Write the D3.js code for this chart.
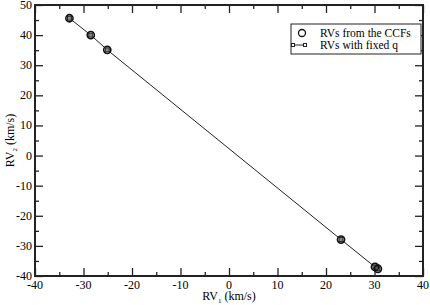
<!DOCTYPE html>
<html>
<head>
<meta charset="utf-8">
<script src="https://cdn.jsdelivr.net/npm/d3@7"></script>
<style>
  body { margin: 0; background: #fff; }
  text { font-family: "Liberation Serif", "Times New Roman", serif; }
</style>
</head>
<body>
<div id="chart"></div>
<script>
// RVs measured from the CCFs
var rv1 = [-32.9, -28.5, -25.1, 23.1, 30.1, 30.7];
var rv2 = [45.6, 40.0, 35.1, -27.9, -37.0, -37.6];
// RVs recomputed with fixed mass ratio q
var fixedRv1 = [-32.9, -28.5, -25.1, 23.1, 30.1, 30.7];
var fixedRv2 = [45.6, 40.0, 35.1, -27.9, -37.0, -37.6];
var xTicks = [-40, -30, -20, -10, 0, 10, 20, 30, 40];
var yTicks = [-40, -30, -20, -10, 0, 10, 20, 30, 40, 50];
var legendLabels = ["RVs from the CCFs", "RVs with fixed q"];

var W = 430, H = 305;
var margin = {top: 5, right: 7, bottom: 29, left: 35};

var x = d3.scaleLinear().domain([-40, 40]).range([margin.left, W - margin.right]);
var y = d3.scaleLinear().domain([-40, 50]).range([H - margin.bottom, margin.top]);

var svg = d3.select("#chart").append("svg")
  .attr("width", W).attr("height", H);

// minor ticks every 5
var xMinor = d3.range(-35, 40, 10);
var yMinor = d3.range(-35, 50, 10);

function tickAxis(axisFn, scale, g, major, minor) {
  g.call(axisFn(scale).tickValues(major).tickSize(-8).tickFormat(""));
  g.select(".domain").remove();
  g.selectAll("line").attr("stroke", "#222").attr("stroke-width", 1.3);
  var gm = g.append("g");
  gm.call(axisFn(scale).tickValues(minor).tickSize(-4).tickFormat(""));
  gm.select(".domain").remove();
  gm.selectAll("line").attr("stroke", "#222").attr("stroke-width", 1.3);
}

tickAxis(d3.axisBottom, x, svg.append("g").attr("transform", "translate(0," + (H - margin.bottom) + ")"), xTicks, xMinor);
tickAxis(d3.axisTop, x, svg.append("g").attr("transform", "translate(0," + margin.top + ")"), xTicks, xMinor);
tickAxis(d3.axisLeft, y, svg.append("g").attr("transform", "translate(" + margin.left + ",0)"), yTicks, yMinor);
tickAxis(d3.axisRight, y, svg.append("g").attr("transform", "translate(" + (W - margin.right) + ",0)"), yTicks, yMinor);

// tick labels
svg.append("g").selectAll("text").data(xTicks).enter().append("text")
  .attr("x", function (d) { return x(d); })
  .attr("y", H - margin.bottom + 13)
  .attr("text-anchor", "middle")
  .style("font-size", "12px")
  .text(function (d) { return d; });

svg.append("g").selectAll("text").data(yTicks).enter().append("text")
  .attr("x", margin.left - 3)
  .attr("y", function (d) { return y(d) + 4; })
  .attr("text-anchor", "end")
  .style("font-size", "12px")
  .text(function (d) { return d; });

// frame
svg.append("rect")
  .attr("x", margin.left).attr("y", margin.top)
  .attr("width", W - margin.left - margin.right)
  .attr("height", H - margin.top - margin.bottom)
  .attr("fill", "none").attr("stroke", "#222").attr("stroke-width", 2);

// axis titles
var xl = svg.append("text")
  .attr("x", x(0)).attr("y", H - 5)
  .attr("text-anchor", "middle")
  .style("font-size", "12px");
xl.append("tspan").text("RV");
xl.append("tspan").attr("dy", 3).style("font-size", "7px").text("1");
xl.append("tspan").attr("dy", -3).text(" (km/s)");

var yl = svg.append("text")
  .attr("transform", "translate(14," + y(5) + ") rotate(-90)")
  .attr("text-anchor", "middle")
  .style("font-size", "12px");
yl.append("tspan").text("RV");
yl.append("tspan").attr("dy", 3).style("font-size", "7px").text("2");
yl.append("tspan").attr("dy", -3).text(" (km/s)");

// fixed q series: line with small squares
var fixedData = fixedRv1.map(function (d, i) { return [d, fixedRv2[i]]; });
var line = d3.line().x(function (d) { return x(d[0]); }).y(function (d) { return y(d[1]); });
svg.append("path").datum(fixedData)
  .attr("d", line).attr("fill", "none").attr("stroke", "#222").attr("stroke-width", 1);

svg.append("g").selectAll("rect").data(fixedData).enter().append("rect")
  .attr("x", function (d) { return x(d[0]) - 2; })
  .attr("y", function (d) { return y(d[1]) - 2; })
  .attr("width", 4).attr("height", 4)
  .attr("fill", "#888").attr("stroke", "#222").attr("stroke-width", 1);

// CCF circles
svg.append("g").selectAll("circle").data(rv1).enter().append("circle")
  .attr("cx", function (d) { return x(d); })
  .attr("cy", function (d, i) { return y(rv2[i]); })
  .attr("r", 3.6)
  .attr("fill", "none").attr("stroke", "#111").attr("stroke-width", 1.6);

// legend
var lg = svg.append("g");
lg.append("rect")
  .attr("x", 291).attr("y", 24).attr("width", 130).attr("height", 30)
  .attr("fill", "#fff").attr("stroke", "#222").attr("stroke-width", 1);
lg.append("circle").attr("cx", 302).attr("cy", 33).attr("r", 3.5)
  .attr("fill", "none").attr("stroke", "#111").attr("stroke-width", 1.3);
lg.append("line").attr("x1", 293).attr("x2", 305).attr("y1", 45).attr("y2", 45)
  .attr("stroke", "#222").attr("stroke-width", 1);
[293, 305].forEach(function (cx) {
  lg.append("rect").attr("x", cx - 1.5).attr("y", 43.5).attr("width", 3).attr("height", 3)
    .attr("fill", "#fff").attr("stroke", "#222").attr("stroke-width", 1);
});
lg.selectAll("text.leg").data(legendLabels).enter().append("text")
  .attr("class", "leg")
  .attr("x", 320)
  .attr("y", function (d, i) { return 37 + i * 12; })
  .style("font-size", "11.5px")
  .text(function (d) { return d; });
</script>
</body>
</html>
